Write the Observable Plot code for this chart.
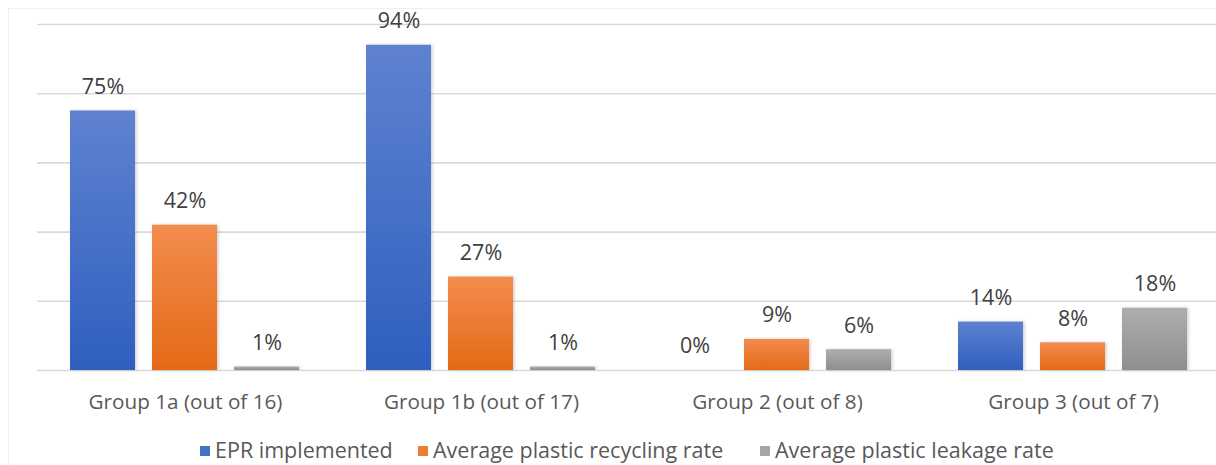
<!DOCTYPE html>
<html>
<head>
<meta charset="utf-8">
<script src="https://cdn.jsdelivr.net/npm/d3@7"></script>
<script src="https://cdn.jsdelivr.net/npm/@observablehq/plot@0.6"></script>
<style>
  html, body { margin: 0; padding: 0; background: #fff; }
  #wrap { position: relative; width: 1216px; height: 465px; overflow: hidden; }
  #border { position: absolute; left: 8px; top: 8px; width: 1300px; height: 480px; border: 1px solid #f0f0f0; box-sizing: border-box; }
  #chart { position: absolute; left: 0; top: 0; }
  #legend { position: absolute; left: 0; top: 435px; width: 1216px; height: 30px;
    font-family: "Open Sans", sans-serif; font-size: 21.5px; color: #595959; }
  .li { position: absolute; top: 0; white-space: nowrap; }
  .sw { display: inline-block; width: 10px; height: 10px; margin-right: 5px; vertical-align: 2px; }
</style>
</head>
<body>
<div id="wrap">
  <div id="border"></div>
  <div id="chart"></div>
  <div id="legend"></div>
</div>
<script>
const groups = ["Group 1a (out of 16)", "Group 1b (out of 17)", "Group 2 (out of 8)", "Group 3 (out of 7)"];
const seriesNames = ["EPR implemented", "Average plastic recycling rate", "Average plastic leakage rate"];
const eprImplemented = [75, 94, 0, 14];
const recyclingRate = [42, 27, 9, 8];
const leakageRate = [1, 1, 6, 18];
const gridTicks = [0, 20, 40, 60, 80, 100];
const seriesColors = ["#4472c4", "#ed7d31", "#a5a5a5"];

const seriesValues = [eprImplemented, recyclingRate, leakageRate];
const data = [];
groups.forEach((g, gi) => {
  seriesNames.forEach((s, si) => {
    data.push({group: g, series: s, value: seriesValues[si][gi]});
  });
});

const gradIds = ["gBlue", "gOrange", "gGray"];

const chart = Plot.plot({
  width: 1216,
  height: 432,
  marginTop: 24,
  marginBottom: 62,
  marginLeft: 36,
  marginRight: 0,
  style: {fontFamily: "'Open Sans', sans-serif", fontSize: "20.7px", color: "#595959", background: "transparent"},
  fx: {domain: groups, range: [36, 1222], paddingInner: 0, paddingOuter: 0, axis: "bottom", tickSize: 0, tickPadding: 24, label: null},
  x: {domain: seriesNames, paddingInner: 0.205, paddingOuter: 0.389, axis: null},
  y: {domain: [0, 100], axis: null},
  color: {domain: seriesNames, range: gradIds.map(id => `url(#${id})`)},
  facet: {data, x: "group"},
  marks: [
    Plot.ruleY(gridTicks, {stroke: "#d9d9d9", strokeWidth: 1.6}),
    Plot.barY(data, {x: "series", y: "value", fill: "series", stroke: "none"}),
    Plot.text(data, {x: "series", y: "value", text: d => d.value + "%", dy: -24, fill: "#404040", fontSize: 21.5})
  ]
});

// gradients for bars
const defs = d3.select(chart).insert("defs", ":first-child");
const stops = [["#5e82d0", "#2f5fbf"], ["#f28c4e", "#e46a17"], ["#adadad", "#8e8e8e"]];
gradIds.forEach((id, i) => {
  const lg = defs.append("linearGradient").attr("id", id).attr("x1", 0).attr("y1", 0).attr("x2", 0).attr("y2", 1);
  lg.append("stop").attr("offset", "0%").attr("stop-color", stops[i][0]);
  lg.append("stop").attr("offset", "100%").attr("stop-color", stops[i][1]);
});
const flt = defs.append("filter").attr("id", "shadow").attr("x", "-20%").attr("y", "-20%").attr("width", "140%").attr("height", "140%");
flt.append("feDropShadow").attr("dx", 1.5).attr("dy", 0).attr("stdDeviation", 1.5).attr("flood-color", "#000").attr("flood-opacity", 0.18);
d3.select(chart).selectAll("rect").filter(function() { const f = this.getAttribute("fill") || this.parentNode.getAttribute("fill"); return f && f.startsWith("url("); }).attr("filter", "url(#shadow)");

document.getElementById("chart").appendChild(chart);

// legend
const legend = document.getElementById("legend");
const legendX = [200, 418, 760];
seriesNames.forEach((s, i) => {
  const item = document.createElement("div");
  item.className = "li";
  item.style.left = legendX[i] + "px";
  item.innerHTML = `<span class="sw" style="background:${seriesColors[i]}"></span>${s}`;
  legend.appendChild(item);
});
</script>
</body>
</html>
